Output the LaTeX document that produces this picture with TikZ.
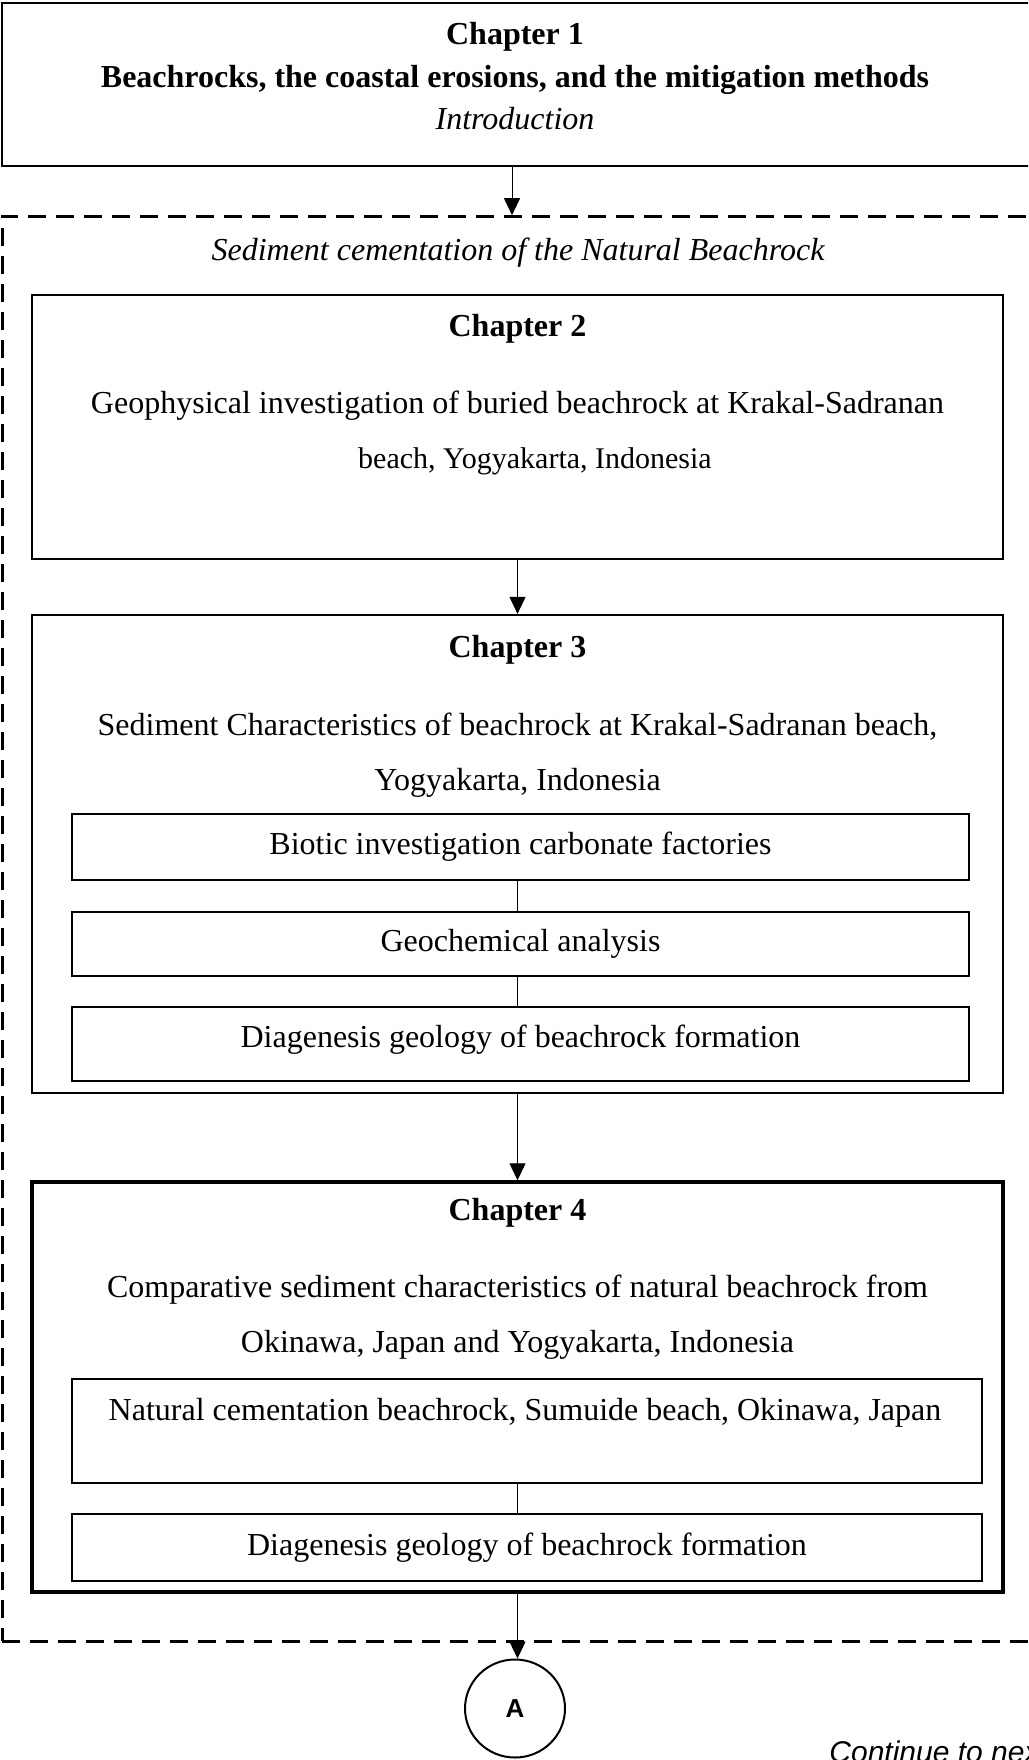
\documentclass[tikz,border=0pt]{standalone}
\usepackage{fontspec}
\setmainfont{Liberation Serif}
\newfontfamily\arialfont{Liberation Sans}
\usetikzlibrary{shapes.geometric,arrows.meta}
\begin{document}
\begin{tikzpicture}[x=0.5pt,y=-0.5pt,
  box/.style={draw, rectangle, inner sep=0pt, line width=1.1pt},
  subbox/.style={draw, rectangle, inner sep=0pt, line width=0.6pt},
  grpbox/.style={draw, rectangle, inner sep=0pt, line width=1.5pt, dash pattern=on 9pt off 5pt},
  txt/.style={anchor=base, inner sep=0pt, font=\fontsize{16pt}{19pt}\selectfont},
  arr/.style={line width=0.5pt, -{Triangle[length=8.5pt,width=8pt]}},
  link/.style={line width=0.5pt}]
\useasboundingbox (0,0) rectangle (1028,1760);
\clip (0,0) rectangle (1028,1760);
\fill[white] (0,0) rectangle (1028,1760);

% boxes
\node[box, minimum width=516pt, minimum height=81.5pt] (ch1) at (518,84.5) {};
\node[grpbox, minimum width=516pt, minimum height=712.15pt] (grp) at (518,928.85) {};
\node[box, minimum width=485.5pt, minimum height=132pt] (ch2) at (517.5,427) {};
\node[box, minimum width=485.5pt, minimum height=239pt] (ch3) at (517.5,854) {};
\node[subbox, minimum width=448.5pt, minimum height=33pt] (s31) at (520.5,847) {};
\node[subbox, minimum width=448.5pt, minimum height=32pt] (s32) at (520.5,944) {};
\node[subbox, minimum width=448.5pt, minimum height=37pt] (s33) at (520.5,1044) {};
\node[box, line width=1.7pt, minimum width=485.5pt, minimum height=205pt] (ch4) at (517.5,1387) {};
\node[subbox, minimum width=455pt, minimum height=52pt] (s41) at (527,1431) {};
\node[subbox, minimum width=455pt, minimum height=33.5pt] (s42) at (527,1547.5) {};
\node[ellipse, draw, line width=1pt, minimum width=50pt, minimum height=49pt, inner sep=0pt,
      font=\arialfont\bfseries\fontsize{13pt}{15pt}\selectfont] (A) at (515,1708.5) {A};

% texts
\node[txt] (t1a) at (515,45) {\bfseries Chapter 1};
\node[txt] (t1b) at (515,88) {\bfseries Beachrocks, the coastal erosions, and the mitigation methods};
\node[txt] (t1c) at (515,130) {\itshape Introduction};
\node[txt] (tg) at (518,261) {\itshape Sediment cementation of the Natural Beachrock};
\node[txt] (t2a) at (517.5,336) {\bfseries Chapter 2};
\node[txt] (t2b) at (517.5,413) {Geophysical investigation of buried beachrock at Krakal-Sadranan};
\node[txt, font=\fontsize{15pt}{18pt}\selectfont] (t2c) at (535,468) {beach, Yogyakarta, Indonesia};
\node[txt] (t3a) at (517.5,657) {\bfseries Chapter 3};
\node[txt] (t3b) at (517.5,735) {Sediment Characteristics of beachrock at Krakal-Sadranan beach,};
\node[txt] (t3c) at (517.5,790) {Yogyakarta, Indonesia};
\node[txt] (t31) at (520.5,854) {Biotic investigation carbonate factories};
\node[txt] (t32) at (520.5,951) {Geochemical analysis};
\node[txt] (t33) at (520.5,1047) {Diagenesis geology of beachrock formation};
\node[txt] (t4a) at (517.5,1220) {\bfseries Chapter 4};
\node[txt] (t4b) at (517.5,1297) {Comparative sediment characteristics of natural beachrock from};
\node[txt] (t4c) at (517.5,1352) {Okinawa, Japan and Yogyakarta, Indonesia};
\node[txt] (t41) at (525,1420) {Natural cementation beachrock, Sumuide beach, Okinawa, Japan};
\node[txt] (t42) at (527,1555) {Diagenesis geology of beachrock formation};
\node[anchor=base west, inner sep=0pt, font=\arialfont\itshape\fontsize{15pt}{18pt}\selectfont] (cont) at (829,1762) {Continue to next page};

% connectors
\draw[arr] ([xshift=-3pt]ch1.south) -- ([xshift=-3pt]grp.north);
\draw[arr] (ch2.south) -- (ch3.north);
\draw[link] (s31.south -| ch3.center) -- (s32.north -| ch3.center);
\draw[link] (s32.south -| ch3.center) -- (s33.north -| ch3.center);
\draw[arr] (ch3.south) -- (ch4.north);
\draw[link] (s41.south -| ch4.center) -- (s42.north -| ch4.center);
\draw[arr] (ch4.south) -- (ch4.south |- A.north);
\end{tikzpicture}
\end{document}
